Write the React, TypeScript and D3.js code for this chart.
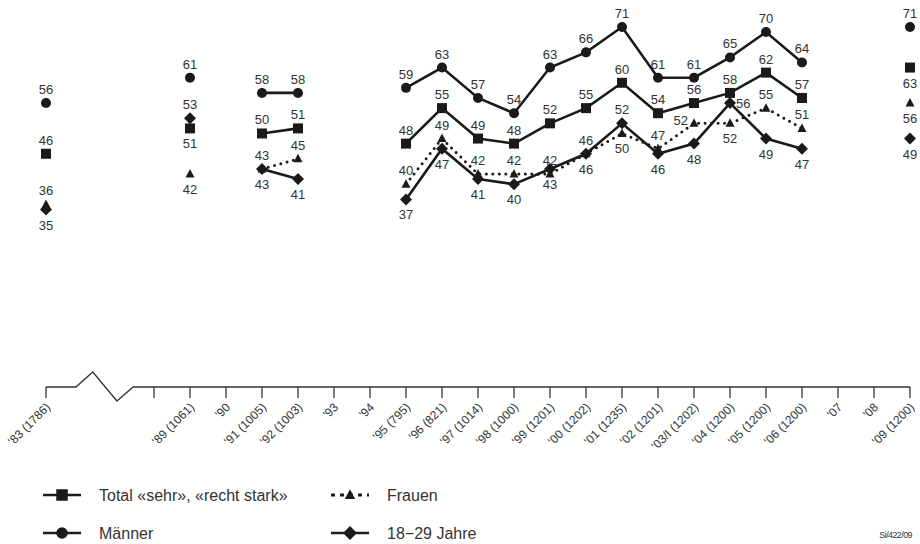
import React from 'react';
import * as d3 from 'd3';

// Axis slots (the three after '83 belong to the axis break; "" = unlabeled tick)
const slots = ["83", "84", "85", "88", "89", "90", "91", "92", "93", "94", "95", "96", "97", "98", "99", "00", "01", "02", "03I", "04", "05", "06", "07", "08", "09"];
const tickLabels: (string | null)[] = ["'83 (1786)", null, null, "", "'89 (1061)", "'90", "'91 (1005)", "'92 (1003)", "'93", "'94", "'95 (795)", "'96 (821)", "'97 (1014)", "'98 (1000)", "'99 (1201)", "'00 (1202)", "'01 (1235)", "'02 (1201)", "'03/I (1202)", "'04 (1200)", "'05 (1200)", "'06 (1200)", "'07", "'08", "'09 (1200)"];

const dataYears = ["83", "89", "91", "92", "95", "96", "97", "98", "99", "00", "01", "02", "03I", "04", "05", "06", "09"];
const totalValues = [46, 51, 50, 51, 48, 55, 49, 48, 52, 55, 60, 54, 56, 58, 62, 57, 63];
const maennerValues = [56, 61, 58, 58, 59, 63, 57, 54, 63, 66, 71, 61, 61, 65, 70, 64, 71];
const frauenValues = [36, 42, 43, 45, 40, 49, 42, 42, 42, 46, 50, 47, 52, 52, 55, 51, 56];
const jungValues = [35, 53, 43, 41, 37, 47, 41, 40, 43, 46, 52, 46, 48, 56, 49, 47, 49];

// label placement codes: a = above, b = below, l = left, r = right
const totalLabelPos = "abaaaaaaaaaaaaaab";
const maennerLabelPos = "aaaaaaaaaaaaaaaaa";
const frauenLabelPos = "abaaaaaaaabalbaab";
const jungLabelPos = "babbbbbbbbabbrbbb";

const seriesNames = ["Total «sehr», «recht stark»", "Frauen", "Männer", "18−29 Jahre"];

const W = 920, H = 544;
const INK = '#1a1a1a';
const TXT = '#333333';
const FONT = 'Arial, "Liberation Sans", Helvetica, sans-serif';

type Marker = 'square' | 'circle' | 'triangle' | 'diamond';

function MarkerShape({ type, x, y, s = 1 }: { type: Marker; x: number; y: number; s?: number }) {
  if (type === 'square') return <rect x={x - 5 * s} y={y - 5 * s} width={10 * s} height={10 * s} fill={INK} />;
  if (type === 'circle') return <circle cx={x} cy={y} r={5 * s} fill={INK} />;
  if (type === 'triangle') return <path d={`M${x},${y - 5 * s} L${x + 4.5 * s},${y + 3.5 * s} L${x - 4.5 * s},${y + 3.5 * s} Z`} fill={INK} />;
  return <path d={`M${x},${y - 6 * s} L${x + 6 * s},${y} L${x},${y + 6 * s} L${x - 6 * s},${y} Z`} fill={INK} />;
}

export default function App() {
  const x = d3.scalePoint<string>().domain(slots).range([46, 910]);
  const y = d3.scaleLinear().domain([0, 71]).range([387, 27]);
  const step = x.step();

  const series = [
    { name: seriesNames[1], values: frauenValues, marker: 'triangle' as Marker, dotted: true, pos: frauenLabelPos },
    { name: seriesNames[0], values: totalValues, marker: 'square' as Marker, dotted: false, pos: totalLabelPos },
    { name: seriesNames[2], values: maennerValues, marker: 'circle' as Marker, dotted: false, pos: maennerLabelPos },
    { name: seriesNames[3], values: jungValues, marker: 'diamond' as Marker, dotted: false, pos: jungLabelPos },
  ];

  // split into runs of adjacent slots
  const runs: number[][] = [];
  dataYears.forEach((yr, i) => {
    const si = slots.indexOf(yr);
    const prev = i > 0 ? slots.indexOf(dataYears[i - 1]) : -10;
    if (si - prev === 1) runs[runs.length - 1].push(i);
    else runs.push([i]);
  });

  const line = d3.line<[number, number]>();

  const x0 = x(slots[0])!;
  const axisY = y(0);
  const breakPath = d3.line()([
    [x0, axisY],
    [x0 + step * 0.83, axisY],
    [x0 + step * 1.3, axisY - 15],
    [x0 + step * 1.97, axisY + 14],
    [x0 + step * 2.42, axisY],
    [x(slots[slots.length - 1])!, axisY],
  ]);

  const labelFor = (code: string, px: number, py: number) => {
    if (code === 'b') return { x: px, y: py + 20, anchor: 'middle' };
    if (code === 'l') return { x: px - 6, y: py + 2, anchor: 'end' };
    if (code === 'r') return { x: px + 6, y: py + 5, anchor: 'start' };
    return { x: px, y: py - 9, anchor: 'middle' };
  };

  const legend = [
    { name: seriesNames[0], marker: 'square' as Marker, dotted: false, lx: 43, ly: 495 },
    { name: seriesNames[1], marker: 'triangle' as Marker, dotted: true, lx: 331, ly: 495 },
    { name: seriesNames[2], marker: 'circle' as Marker, dotted: false, lx: 43, ly: 533 },
    { name: seriesNames[3], marker: 'diamond' as Marker, dotted: false, lx: 331, ly: 533 },
  ];

  return (
    <svg width={W} height={H} style={{ position: 'absolute', left: 0, top: 0, background: '#fff' }} fontFamily={FONT}>
      <rect width={W} height={H} fill="#fff" />
      {/* axis */}
      <path d={breakPath!} fill="none" stroke={TXT} strokeWidth={1.3} />
      {slots.map((s, i) => tickLabels[i] === null ? null : (
        <g key={s}>
          <line x1={x(s)} x2={x(s)} y1={axisY} y2={axisY + 11} stroke={TXT} strokeWidth={1.3} />
          {tickLabels[i] ? (
            <text transform={`translate(${x(s)! + 5},${axisY + 21}) rotate(-45)`} textAnchor="end" fontSize={12} fill={TXT}>{tickLabels[i]}</text>
          ) : null}
        </g>
      ))}
      {/* series */}
      {series.map((se) => (
        <g key={se.name}>
          {runs.filter(r => r.length > 1).map((r, k) => (
            <path key={k}
              d={line(r.map(i => [x(dataYears[i])!, y(se.values[i])] as [number, number]))!}
              fill="none" stroke={INK}
              strokeWidth={se.dotted ? 3 : 2.6}
              strokeDasharray={se.dotted ? '0 6.5' : undefined}
              strokeLinecap={se.dotted ? 'round' : 'butt'}
              strokeLinejoin="miter" />
          ))}
          {dataYears.map((yr, i) => (
            <MarkerShape key={yr} type={se.marker} x={x(yr)!} y={y(se.values[i])} />
          ))}
        </g>
      ))}
      {series.map((se) => (
        <g key={se.name + 'l'}>
          {dataYears.map((yr, i) => {
            const L = labelFor(se.pos[i], x(yr)!, y(se.values[i]));
            return <text key={yr} x={L.x} y={L.y} textAnchor={L.anchor as any} fontSize={13} fill={TXT}>{se.values[i]}</text>;
          })}
        </g>
      ))}
      {/* legend */}
      {legend.map((lg) => (
        <g key={lg.name}>
          <line x1={lg.lx} x2={lg.lx + 38} y1={lg.ly} y2={lg.ly} stroke={INK}
            strokeWidth={lg.dotted ? 3 : 2.6}
            strokeDasharray={lg.dotted ? '4 5' : undefined} />
          <MarkerShape type={lg.marker} x={lg.lx + 19} y={lg.ly} s={1.15} />
          <text x={lg.lx + 56} y={lg.ly + 6} fontSize={16} fill={TXT}>{lg.name}</text>
        </g>
      ))}
      <text x={912} y={538} textAnchor="end" fontSize={9} fill={TXT} letterSpacing={-0.6}>Si/422/09</text>
    </svg>
  );
}
